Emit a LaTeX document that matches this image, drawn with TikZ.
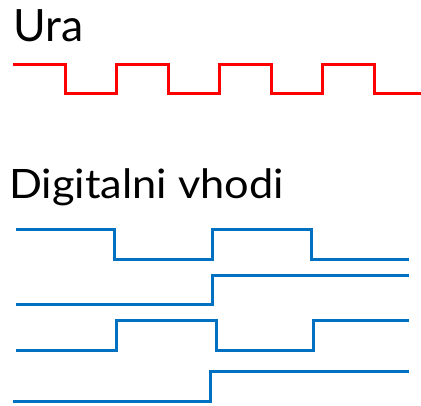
\documentclass[tikz,border=0pt]{standalone}
\usepackage{fontspec}
\usepackage{graphicx}
\setmainfont{Lato}
\definecolor{clkred}{RGB}{255,0,0}
\definecolor{sigblue}{RGB}{0,112,192}
\begin{document}
\begin{tikzpicture}[x=1pt,y=-1pt,
  clk/.style={draw=clkred,line width=3pt,line join=miter},
  sig/.style={draw=sigblue,line width=3pt,line join=miter},
  lbl/.style={anchor=base west,inner sep=0pt}]
\useasboundingbox (0,0) rectangle (421,406);
\node[lbl,font=\fontsize{44.5}{44.5}\selectfont] (ura) at (13,42) {Ura};
\node[lbl,font=\fontsize{40.5}{40.5}\selectfont] (dig) at (9,199) {\scalebox{1.07}[1]{Digitalni vhodi}};
% clock
\draw[clk] (13,65) -- (65,65) -- (65,94) -- (116,94) -- (116,65) -- (168,65) -- (168,94) -- (219,94) -- (219,65) -- (271,65) -- (271,94) -- (322,94) -- (322,65) -- (374,65) -- (374,94) -- (421,94);
% signals
\draw[sig] (16,230) -- (114,230) -- (114,260) -- (212,260) -- (212,230) -- (311,230) -- (311,260) -- (409,260);
\draw[sig] (16,305) -- (212,305) -- (212,276) -- (409,276);
\draw[sig] (16,351) -- (116,351) -- (116,321) -- (216,321) -- (216,351) -- (313,351) -- (313,321) -- (409,321);
\draw[sig] (13,402) -- (210,402) -- (210,372) -- (409,372);
\end{tikzpicture}
\end{document}
